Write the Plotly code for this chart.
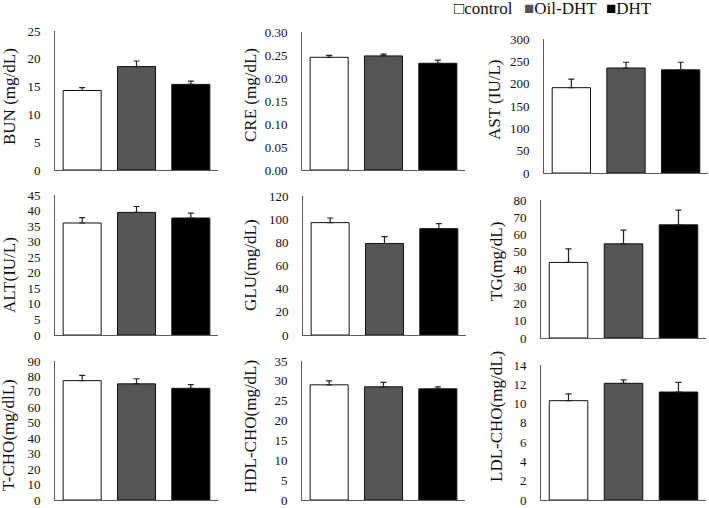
import plotly.graph_objects as go

W, H = 709, 508

groups = ["control", "Oil-DHT", "DHT"]
colors = ["#ffffff", "#555555", "#000000"]

bun = [14.3, 18.6, 15.4]
bun_err = [0.5, 1.0, 0.6]
cre = [0.245, 0.248, 0.232]
cre_err = [0.004, 0.004, 0.007]
ast = [191, 235, 231]
ast_err = [19, 13, 17]
alt = [36.0, 39.4, 37.6]
alt_err = [1.7, 1.9, 1.6]
glu = [97.0, 79.0, 91.8]
glu_err = [4.0, 6.0, 4.3]
tg = [43.8, 54.6, 65.6]
tg_err = [7.9, 7.9, 8.5]
tcho = [77.3, 75.2, 72.3]
tcho_err = [3.4, 3.3, 2.4]
hdl = [29.0, 28.5, 28.0]
hdl_err = [1.0, 1.1, 0.5]
ldl = [10.3, 12.1, 11.2]
ldl_err = [0.7, 0.35, 1.0]

y_titles = ["BUN (mg/dL)", "CRE (mg/dL)", "AST (IU/L)",
            "ALT(IU/L)", "GLU(mg/dL)", "TG(mg/dL)",
            "T-CHO(mg/dlL)", "HDL-CHO(mg/dL)", "LDL-CHO(mg/dL)"]
y_max = [25, 0.30, 300, 45, 120, 80, 90, 35, 14]
y_dtick = [5, 0.05, 50, 5, 20, 10, 10, 5, 2]
y_format = ["", ".2f", "", "", "", "", "", "", ""]

panel_values = [bun, cre, ast, alt, glu, tg, tcho, hdl, ldl]
panel_errors = [bun_err, cre_err, ast_err, alt_err, glu_err, tg_err, tcho_err, hdl_err, ldl_err]

# layout boxes in pixels: x0, x1, ytop, ybottom
boxes = [
    (55, 218, 31, 170), (302, 465, 32, 170), (544, 708, 39, 173),
    (55, 218, 195, 335), (303, 466, 196, 335), (541, 706, 200, 338),
    (55, 218, 361, 500), (302, 465, 361, 500), (541, 706, 365, 500),
]
title_pos = [
    (9, 97), (250, 95), (495, 100),
    (9, 275), (250, 265), (496, 262),
    (8, 435), (250, 427), (496, 417),
]

FONT = "Liberation Serif"
AXCOL = "#5a5a5a"
TXT = "#111111"

fig = go.Figure()
layout = dict(
    template="none",
    width=W, height=H,
    margin=dict(l=0, r=0, t=0, b=0),
    paper_bgcolor="white", plot_bgcolor="white",
    showlegend=False, bargap=0.3,
    font=dict(family=FONT, color=TXT),
)
annotations = []

for i, (vals, errs) in enumerate(zip(panel_values, panel_errors)):
    k = "" if i == 0 else str(i + 1)
    fig.add_trace(go.Bar(
        x=groups, y=vals,
        marker=dict(color=colors, line=dict(color="#111111", width=1)),
        error_y=dict(type="data", array=errs, arrayminus=[0, 0, 0], symmetric=False,
                     color="#222222", thickness=1.2, width=3),
        xaxis="x" + k, yaxis="y" + k, width=0.7,
    ))
    x0, x1, yt, yb = boxes[i]
    layout["xaxis" + k] = dict(
        domain=[x0 / W, x1 / W], anchor="y" + k,
        showline=True, linecolor=AXCOL, linewidth=1,
        showticklabels=False, ticks="", showgrid=False, zeroline=False,
        range=[-0.5, 2.5], type="category",
    )
    layout["yaxis" + k] = dict(
        domain=[1 - yb / H, 1 - yt / H], anchor="x" + k,
        showline=True, linecolor=AXCOL, linewidth=1, color=TXT,
        range=[0, y_max[i]], dtick=y_dtick[i], tick0=0,
        tickformat=y_format[i], ticks="", showgrid=False, zeroline=False,
        ticklabelstandoff=11,
        tickfont=dict(family=FONT, size=13, color=TXT),
    )
    tx, ty = title_pos[i]
    annotations.append(dict(
        text=y_titles[i], x=tx / W, y=1 - ty / H, xref="paper", yref="paper",
        textangle=-90, showarrow=False, xanchor="center", yanchor="middle",
        font=dict(family=FONT, size=17, color=TXT),
    ))

legend_items = [("□", "#111111", "control", 452),
                ("■", "#555555", "Oil-DHT", 522),
                ("■", "#000000", "DHT", 604)]
for sym, col, name, lx in legend_items:
    annotations.append(dict(
        text=f"<span style='color:{col}'>{sym}</span>{name}",
        x=lx / W, y=1 - 9 / H, xref="paper", yref="paper",
        showarrow=False, xanchor="left", yanchor="middle",
        font=dict(family=FONT, size=17, color=TXT),
    ))

layout["annotations"] = annotations
fig.update_layout(**layout)
fig.write_html("out.html", config={"displayModeBar": False},
               post_script="document.body.style.margin='0';")
